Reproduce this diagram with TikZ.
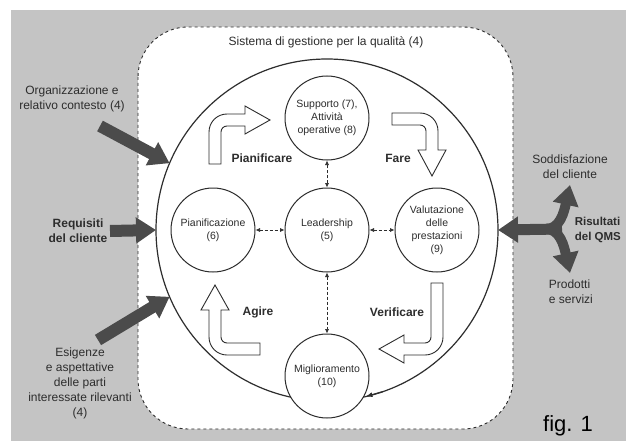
\documentclass[tikz,border=0pt]{standalone}
\usepackage{fontspec}
\setmainfont{Liberation Sans}
\usetikzlibrary{arrows.meta}
\definecolor{bg}{RGB}{196,196,196}
\definecolor{ink}{RGB}{45,45,45}
\definecolor{fatgray}{RGB}{75,75,75}
\begin{document}
\begin{tikzpicture}[x=1pt,y=-1pt,line width=1pt,
    ring/.style={circle,draw=ink,fill=white,minimum size=84pt,inner sep=0pt,align=center,text=ink,font=\fontsize{10.5}{13}\selectfont},
    link/.style={draw=ink,line width=.7pt,densely dashed,{Latex[length=4.5pt,width=4pt]}-{Latex[length=4.5pt,width=4pt]}},
    pdca/.style={draw=ink,fill=white,line width=.9pt},
    fat/.style={draw=fatgray,line width=12pt,-{Triangle[length=20pt,width=25pt]}},
    lab/.style={align=center,text=ink,font=\fontsize{12}{15}\selectfont},
    blab/.style={align=center,text=ink,font=\fontsize{12}{15}\selectfont\bfseries}]
    \fill[white] (0,0) rectangle (626,441);
    \useasboundingbox (0,0) rectangle (626,441);
    \fill[bg] (11,10) rectangle (626,441);
    \draw[draw=ink,fill=white,dashed,line width=.9pt,rounded corners=50pt] (138,27) rectangle (513,429);
    \node[lab] (S) at (326,42) {Sistema di gestione per la qualità (4)};
    \node[circle,draw=ink,line width=1.2pt,minimum size=342pt,inner sep=0pt,outer sep=0pt] (Q) at (327,230) {};
    \draw[pdca] (221,164) -- (209,164) -- (209,132) .. controls (209,122) and (217,114) .. (227,114) -- (245,114) -- (245,106) -- (270,120) -- (245,134) -- (245,126) -- (227,126) .. controls (223.7,126) and (221,128.7) .. (221,132) -- cycle;
    \draw[pdca] (392,113) -- (420,113) .. controls (430,113) and (438,121) .. (438,131) -- (438,150) -- (446,150) -- (432,176) -- (418,150) -- (426,150) -- (426,131) .. controls (426,127.7) and (423.3,125) .. (420,125) -- (392,125) -- cycle;
    \draw[pdca] (443,283) -- (443,337) .. controls (443,347) and (435,355) .. (425,355) -- (404,355) -- (404,363) -- (379,349) -- (404,335) -- (404,343) -- (425,343) .. controls (428.3,343) and (431,340.3) .. (431,337) -- (431,283) -- cycle;
    \draw[pdca] (260,355) -- (227,355) .. controls (217,355) and (209,347) .. (209,337) -- (209,310) -- (201,310) -- (215,285) -- (229,310) -- (221,310) -- (221,337) .. controls (221,340.3) and (223.7,343) .. (227,343) -- (260,343) -- cycle;
    \node[blab] (P1) at (262,158) {Pianificare};
    \node[blab] (P2) at (398,158) {Fare};
    \node[blab] (P3) at (397,312) {Verificare};
    \node[blab] (P4) at (258,312) {Agire};
    \node[ring] (C0) at (327,230) {Leadership\\(5)};
    \node[ring] (C1) at (327,118) {Supporto (7),\\Attività\\operative (8)};
    \node[ring] (C2) at (437,230) {Valutazione\\delle\\prestazioni\\(9)};
    \node[ring] (C3) at (327,376) {Miglioramento\\(10)};
    \node[ring] (C4) at (213,230) {Pianificazione\\(6)};
    \draw[link] (C0) -- (C1);
    \draw[link] (C0) -- (C2);
    \draw[link] (C0) -- (C3);
    \draw[link] (C4) -- (C0);
    \draw[draw=ink,line width=1.2pt,-{Latex[length=7pt,width=5pt]}] (Q.-71) -- (Q.-77.7);
    \coordinate (A1) at (100,126);
    \coordinate (A2) at (110,231);
    \coordinate (A3) at (98,340);
    \draw[fat] (A1) -- (Q.157);
    \draw[fat] (A2) -- (Q.180);
    \draw[fat] (A3) -- (Q.203);
    \coordinate (B0) at (562,229);
    \coordinate (B1) at (546,229);
    \draw[fat,line width=11pt] (B0) -- (Q.0);
    \draw[fat,line width=10pt] (B1) .. controls (560,229) and (564,212) .. (570,185);
    \draw[fat,line width=10pt] (B1) .. controls (560,229) and (564,246) .. (570,273);
    \node[lab] (E1) at (72,99) {Organizzazione e\\relativo contesto (4)};
    \node[blab] (E2) at (78,231) {Requisiti\\del cliente};
    \node[lab] (E3) at (80,383) {Esigenze\\e aspettative\\delle parti\\interessate rilevanti\\(4)};
    \node[lab] (U1) at (570,167) {Soddisfazione\\del cliente};
    \node[blab,anchor=west,align=left,font=\fontsize{11.5}{14.5}\selectfont\bfseries] (U2) at (571,230) {Risultati\\del QMS};
    \node[lab,anchor=west,align=left] (U3) at (545,292) {Prodotti\\e servizi};
    \node[anchor=base,font=\fontsize{22}{26}\selectfont] (F) at (568,431) {fig. 1};
\end{tikzpicture}
\end{document}
